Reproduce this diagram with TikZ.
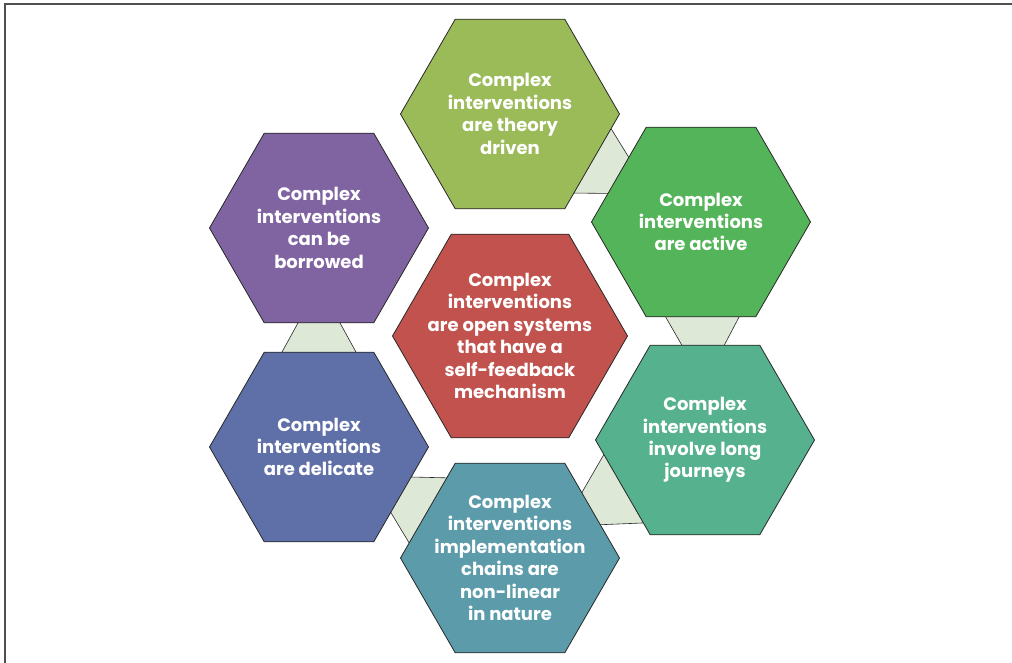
\documentclass[tikz,border=0pt]{standalone}
\usepackage{fontspec}
\setmainfont{Poppins}
\usetikzlibrary{shapes.geometric,calc}
\definecolor{colOlive}{RGB}{155,187,89}
\definecolor{colGreen}{RGB}{84,180,89}
\definecolor{colTealGreen}{RGB}{85,177,142}
\definecolor{colTeal}{RGB}{91,155,170}
\definecolor{colBlue}{RGB}{95,112,168}
\definecolor{colPurple}{RGB}{128,100,162}
\definecolor{colRed}{RGB}{193,82,77}
\definecolor{colLink}{RGB}{222,232,214}
\definecolor{colEdge}{RGB}{40,40,40}
\definecolor{colFrame}{RGB}{80,80,80}
\newcommand\linkhex[2]{%
  \coordinate (#1#2m) at ($(#1.center)!0.5!(#2.center)$);
  \coordinate (#1#2a) at ($(#1#2m)!40pt!(#1.center)$);
  \coordinate (#1#2b) at ($(#1#2m)!40pt!(#2.center)$);
  \draw[linkst] ($(#1#2a)!51pt!90:(#2.center)$) -- ($(#1#2a)!51pt!-90:(#2.center)$)
     -- ($(#1#2b)!7pt!90:(#1.center)$) -- ($(#1#2b)!7pt!-90:(#1.center)$) -- cycle;}
\tikzset{
  hexo/.style={regular polygon, regular polygon sides=6, minimum size=219pt, inner sep=0pt, draw=colEdge, line width=0.8pt},
  hexc/.style={hexo, minimum size=235pt},
  txt/.style={align=center, text=white, font=\fontsize{18}{22.4}\selectfont\bfseries},
  linkst/.style={fill=colLink, draw=colEdge, line width=0.6pt},
  frame/.style={draw=colFrame, line width=1.5pt}
}
\begin{document}
\begin{tikzpicture}[x=1pt,y=-1pt]
\useasboundingbox (0,0) rectangle (1012,663);
\coordinate (fbl) at (5,663);
\coordinate (ftl) at (5,4);
\coordinate (ftr) at (1012,4);
\draw[frame] (fbl) -- (ftl) -- (ftr);
\path (510,114) coordinate (p1) (701,222) coordinate (p2) (705,440) coordinate (p3)
      (510,558) coordinate (p4) (319,447) coordinate (p5) (319,228) coordinate (p6)
      (510,336) coordinate (p0);
\node[hexo, draw=none] (h1) at (p1) {};
\node[hexo, draw=none] (h2) at (p2) {};
\node[hexo, draw=none] (h3) at (p3) {};
\node[hexo, draw=none] (h4) at (p4) {};
\node[hexo, draw=none] (h5) at (p5) {};
\node[hexo, draw=none] (h6) at (p6) {};
\linkhex{h1}{h2}
\linkhex{h2}{h3}
\linkhex{h3}{h4}
\linkhex{h4}{h5}
\linkhex{h5}{h6}
\node[hexo, fill=colOlive] (g1) at (p1) {};
\node[hexo, fill=colGreen] (g2) at (p2) {};
\node[hexo, fill=colTealGreen] (g3) at (p3) {};
\node[hexo, fill=colTeal] (g4) at (p4) {};
\node[hexo, fill=colBlue] (g5) at (p5) {};
\node[hexo, fill=colPurple] (g6) at (p6) {};
\node[hexc, fill=colRed] (g0) at (p0) {};
\node[txt] (t1) at (g1.center) {Complex\\interventions\\are theory\\driven};
\node[txt] (t2) at (g2.center) {Complex\\interventions\\are active};
\node[txt] (t3) at (g3.center) {Complex\\interventions\\involve long\\journeys};
\node[txt] (t4) at (g4.center) {Complex\\interventions\\implementation\\chains are\\non-linear\\in nature};
\node[txt] (t5) at (g5.center) {Complex\\interventions\\are delicate};
\node[txt] (t6) at (g6.center) {Complex\\interventions\\can be\\borrowed};
\node[txt] (t0) at (g0.center) {Complex\\interventions\\are open systems\\that have a\\self-feedback\\mechanism};
\end{tikzpicture}
\end{document}
